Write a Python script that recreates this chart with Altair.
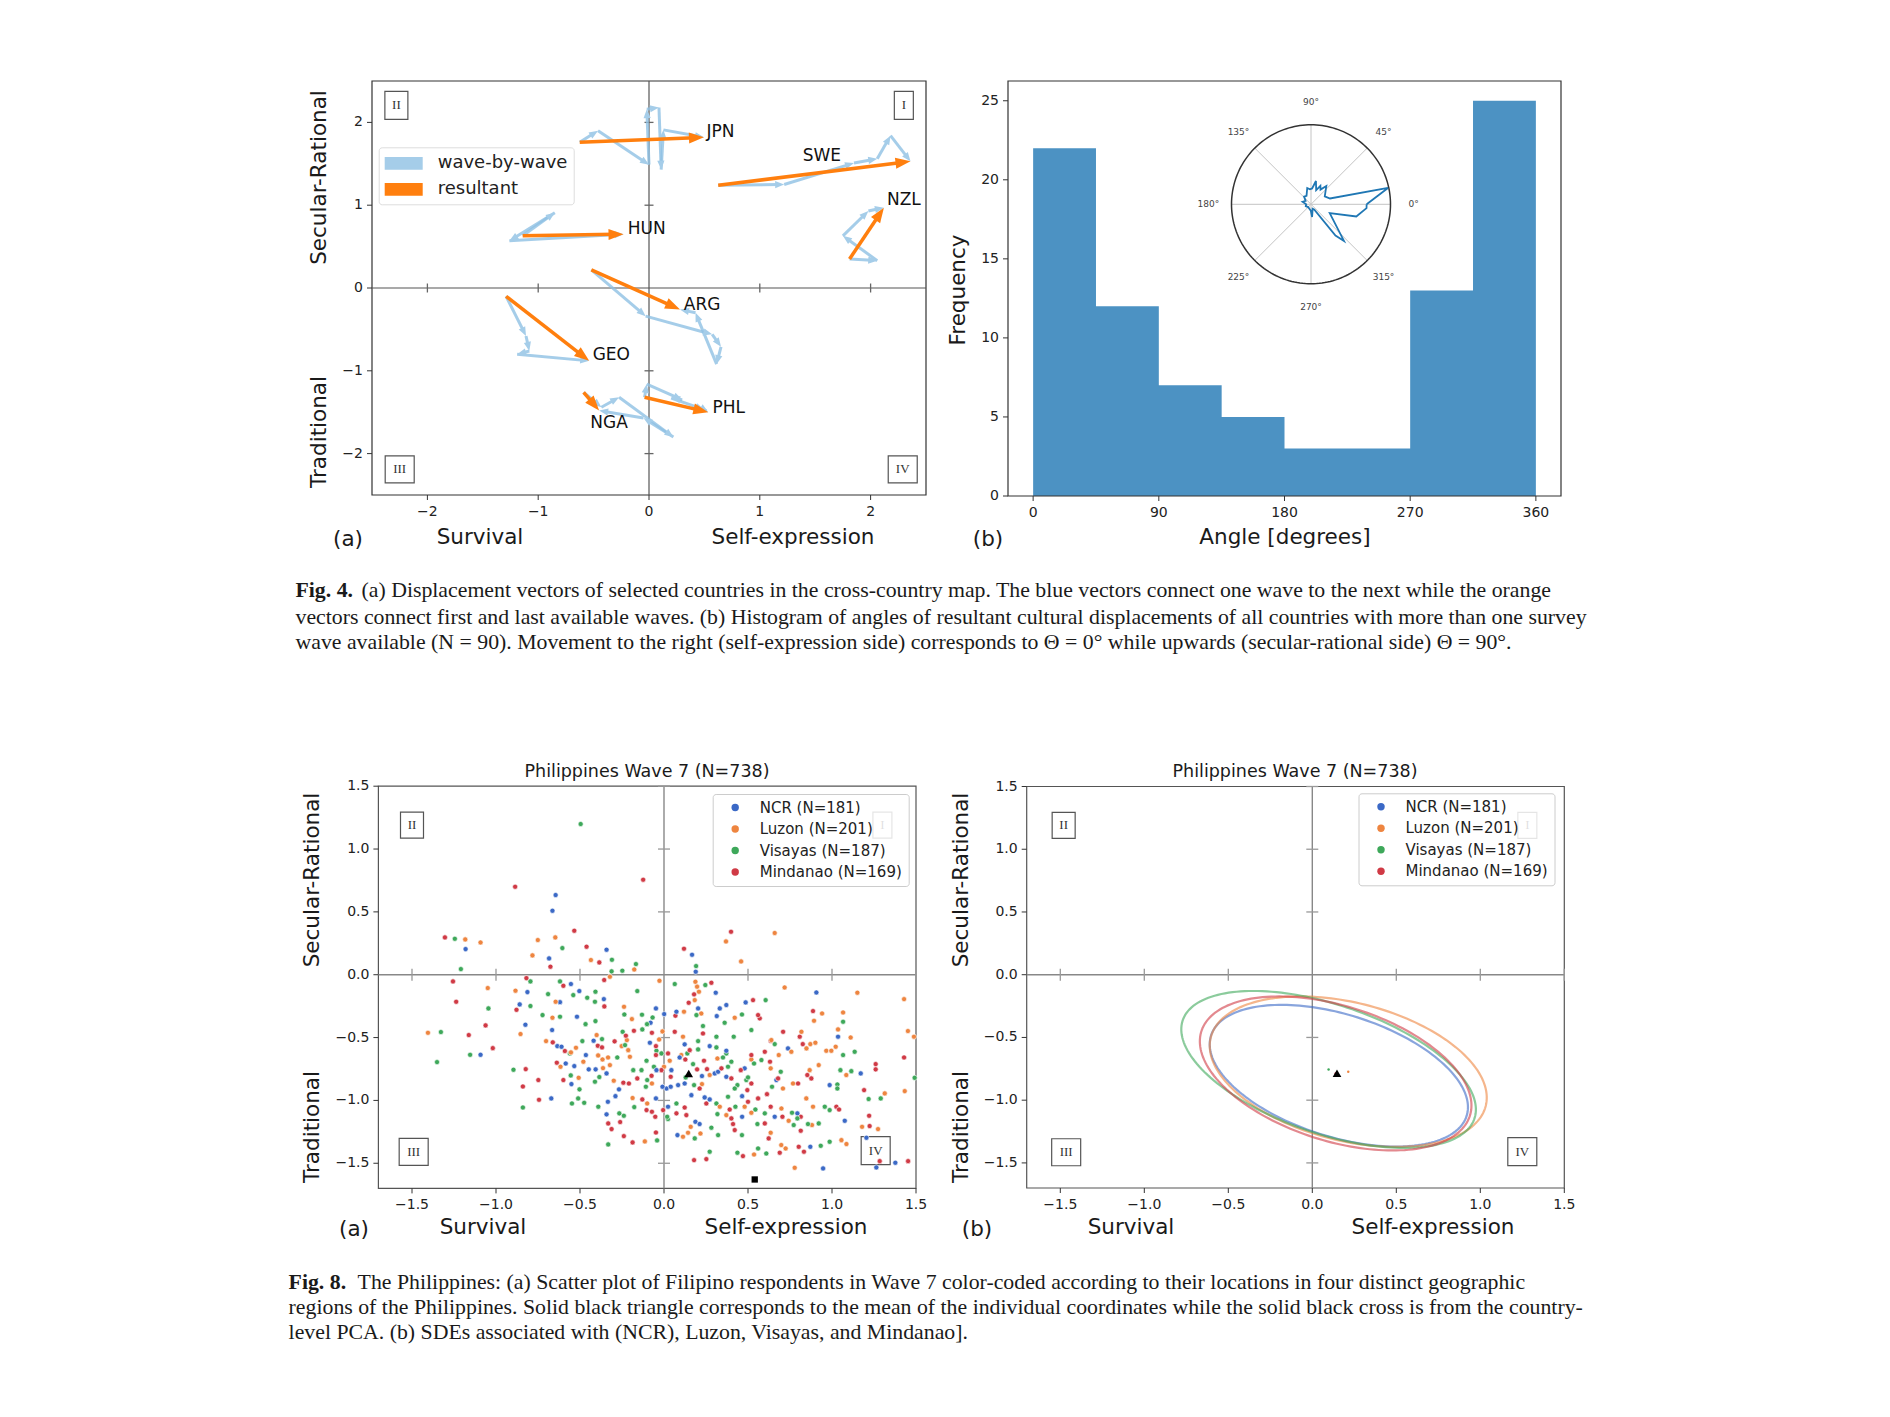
import math
import numpy as np
import pandas as pd
import altair as alt

W, H = 1874, 1400

# ============================ DATA ============================
# ---- Fig. 4(a): wave-by-wave positions (first point = first wave, last = last wave)
COUNTRIES = ["JPN", "SWE", "NZL", "HUN", "ARG", "GEO", "PHL", "NGA"]
JPN_X = [-0.625, -0.46, 0.00, -0.02, 0.09, 0.11, 0.13, 0.496]
JPN_Y = [1.76, 1.90, 1.49, 2.16, 2.18, 1.43, 1.91, 1.82]
SWE_X = [0.625, 1.22, 1.85, 2.06, 2.18, 2.36]
SWE_Y = [1.24, 1.25, 1.51, 1.56, 1.84, 1.53]
NZL_X = [1.81, 2.06, 1.75, 1.98, 2.12]
NZL_Y = [0.35, 0.33, 0.63, 0.93, 0.97]
HUN_X = [-1.14, -0.85, -1.26, -0.23]
HUN_Y = [0.63, 0.91, 0.57, 0.65]
ARG_X = [-0.52, -0.03, 0.57, 0.65, 0.61, 0.42, 0.28]
ARG_Y = [0.22, -0.34, -0.56, -0.71, -0.92, -0.30, -0.26]
GEO_X = [-1.29, -1.11, -1.08, -1.19, -0.54]
GEO_Y = [-0.10, -0.58, -0.76, -0.80, -0.88]
PHL_X = [-0.04, -0.02, 0.30, 0.20, 0.50, 0.535]
PHL_Y = [-1.32, -1.16, -1.35, -1.33, -1.47, -1.50]
NGA_X = [-0.59, -0.43, -0.27, 0.22, -0.05, -0.45]
NGA_Y = [-1.26, -1.44, -1.32, -1.80, -1.57, -1.48]
LABEL_X = [0.645, 1.56, 2.30, -0.02, 0.48, -0.34, 0.72, -0.36]
LABEL_Y = [1.89, 1.59, 1.06, 0.71, -0.21, -0.81, -1.45, -1.63]
KINDS = ["wave-by-wave", "resultant"]
QUAD = ["II", "I", "III", "IV"]
QA_X = [-2.28, 2.30, -2.25, 2.29]
QA_Y = [2.205, 2.205, -2.19, -2.19]
A_TICKS = [-2, -1, 0, 1, 2]

# ---- Fig. 4(b): histogram of resultant angles + polar inset
BIN_EDGES = [0, 45, 90, 135, 180, 225, 270, 315, 360]
BIN_COUNT = [22, 12, 7, 5, 3, 3, 13, 25]
ANGLE_TICKS = [0, 90, 180, 270, 360]
FREQ_TICKS = [0, 5, 10, 15, 20, 25]
ROSE_DEG = [0, 12, 17, 30, 50, 57, 63, 70, 78, 86, 94, 103, 118, 132, 148, 163,
            180, 200, 225, 250, 268, 275, 290, 302, 308, 312, 335, 345, 356]
ROSE_R = [0.70, 0.99, 0.25, 0.20, 0.30, 0.22, 0.26, 0.19, 0.30, 0.20, 0.19, 0.21, 0.12, 0.13, 0.08, 0.11,
          0.06, 0.07, 0.05, 0.06, 0.08, 0.16, 0.06, 0.08, 0.50, 0.62, 0.26, 0.59, 0.70]
POLAR_DEG = [0, 45, 90, 135, 180, 225, 270, 315]

# ---- Fig. 8: Philippines wave 7 respondents
REGIONS = ["NCR (N=181)", "Luzon (N=201)", "Visayas (N=187)", "Mindanao (N=169)"]
NCR_X = [-0.645, -0.664, -1.181, -0.342, -0.684, -0.554, 0.167, 0.189, -1.092, -0.813, -0.859, -0.504,
         -0.358, -0.619, -0.518, -0.825, -0.666, -0.048, 0.001, -0.080, -0.635, -0.610, -0.585, -0.534,
         -0.465, -0.419, -0.448, -0.407, -0.342, -0.551, -0.671, -0.334, -0.342, -0.268, -0.289, -0.045,
         -0.009, 0.015, -0.084, -0.048, 0.203, 0.074, 0.308, 0.371, 0.332, 0.314, 0.486, 0.907, 1.036,
         0.123, 0.738, 1.171, 0.986, 1.076, 1.264, 1.377, 1.205, 0.947, 0.480, 0.371, 0.322, 0.371, 0.669,
         0.794, 0.659, 0.871, 0.465, 0.080, 0.187, 0.212, 0.024, 0.242, 0.272, 0.465, 0.163, 0.123, 0.084,
         0.040, 0.226, 0.302, 0.093, 0.272, 0.044]
NCR_Y = [0.634, 0.509, 0.204, 0.199, 0.130, -0.074, 0.159, 0.024, -0.637, -0.138, -0.236, -0.130,
         -0.194, -0.218, -0.334, -0.398, -0.440, -0.268, -0.313, -0.382, -0.568, -0.573, -0.706, -0.727,
         -0.639, -0.525, -0.753, -0.753, -0.785, -0.870, -0.984, -1.011, -1.111, -0.912, -0.966, -0.759,
         -0.891, -0.905, -0.541, -0.984, -0.268, -0.294, -0.143, -0.241, -0.268, -0.329, -0.220, -0.141, -0.493,
         -0.554, -0.586, -0.785, -0.878, -1.162, -1.533, -1.496, -1.297, -1.541, -0.745, -0.812, -0.772, -0.605, -0.838,
         -1.103, -1.130, -1.369, -1.130, -1.276, -1.170, -1.188, -1.050, -0.976, -0.992, -0.966, -0.958, -0.865, -0.878,
         -0.891, -0.806, -0.785, -0.658, -0.568, -0.759]
LUZON_X = [-1.183, -1.092, -0.751, -0.647, -0.783, -0.435, -0.177, -0.322, -0.027, 0.369, 0.659, 0.459,
           -1.049, -1.405, -0.884, -0.645, -0.664, -0.854, -0.238, -0.191, -0.009, -0.702, -0.554, -0.524,
           -0.616, -0.480, -0.401, -0.392, -0.366, -0.333, -0.363, -0.322, -0.508, -0.114, -0.299, -0.187,
           -0.100, -0.072, -0.029, 0.000, -0.221, -0.213, -0.203, -0.252, 0.187, 0.197, 0.208, 0.183, 0.222,
           0.119, 0.421, 0.718, 1.151, 1.429, 0.941, 0.893, 1.066, 0.818, 1.111, 1.036, 1.452, 1.488, 0.113,
           0.639, 0.758, 0.848, 0.871, 0.901, 0.966, 0.996, 1.022, 1.433, 1.085, 1.314, 1.179, 1.274, 0.778,
           0.520, 0.318, 0.635, 0.683, 0.708, 0.768, 0.867, 0.921, 0.847, 0.887, 0.881, 0.742, 0.699, 0.635,
           0.536, 0.698, 0.724, 1.056, 1.086, 0.371, 0.332, 0.217, 0.143, 0.113, 0.159, 0.480, 0.520, 0.226,
           0.272, 0.103, 0.034]
LUZON_Y = [0.281, 0.257, 0.276, 0.297, 0.154, 0.117, 0.042, -0.016, -0.048, 0.265, 0.332, 0.106,
           -0.106, -0.462, -0.127, -0.215, -0.342, -0.472, -0.255, -0.353, -0.451, -0.528, -0.618, -0.581,
           -0.732, -0.692, -0.480, -0.642, -0.674, -0.658, -0.743, -0.719, -0.820, -1.326, -0.843, -0.981,
           -1.024, -0.865, -0.515, -0.732, -0.520, -0.600, -0.653, -0.568, -0.056, -0.095, -0.135, -0.202, -0.308,
           -0.294, -0.342, -0.101, -0.143, -0.194, -0.308, -0.366, -0.300, -0.454, -0.499, -0.435, -0.448, -0.493, -0.493,
           -0.520, -0.613, -0.586, -0.552, -0.541, -0.605, -0.605, -0.573, -0.926, -0.798, -0.944, -1.210, -1.228, -1.536,
           -0.674, -0.666, -0.745, -0.639, -0.905, -0.865, -0.759, -0.719, -0.984, -1.050, -1.196, -1.162, -1.064, -1.257,
           -1.430, -1.355, -1.382, -1.316, -1.347, -1.117, -1.050, -1.263, -1.257, -1.289, -1.210, -1.050, -1.098, -0.870,
           -0.798, -0.639, -0.684]
VISAYAS_X = [-0.496, -1.245, -0.605, -0.310, -0.167, -1.209, -0.312, -0.248, -0.795, -0.619, 0.191,
             -1.045, -1.328, -1.154, -1.351, -0.795, -0.690, -0.540, -0.457, -0.408, -0.411, -0.723, -0.619,
             -0.467, -0.408, -0.159, -0.236, -0.131, -0.068, -0.101, -0.129, -0.560, -0.486, -0.369, -0.385,
             -0.896, -0.555, -0.503, -0.411, -0.840, -0.548, -0.511, -0.475, -0.391, -0.266, -0.239, -0.041,
             -0.332, -0.177, -0.183, -0.134, -0.100, -0.108, -0.060, -0.104, -0.045, -0.015, 0.019, -0.246,
             -0.232, -0.278, 0.064, 0.246, 0.193, 0.361, 0.464, 0.605, 1.066, 0.520, 0.415, 0.312, 0.232, 0.203,
             0.659, 1.066, 1.135, 1.492, 1.115, 1.050, 1.032, 1.032, 1.290, 1.218, 0.580, 0.490, 0.437, 0.421,
             0.381, 0.351, 0.401, 0.371, 0.536, 0.695, 0.643, 0.957, 0.986, 0.921, 0.857, 0.794, 0.762, 0.772,
             0.600, 0.556, 0.560, 0.609, 0.933, 0.986, 0.437, 0.272, 0.464, 0.322, 0.183, 0.024, 0.282, 0.074,
             0.318, 0.312, 0.425, 0.381, 0.544, 0.129, 0.179, 0.173, 0.139, 0.312, 0.203, 0.500]
VISAYAS_Y = [1.199, 0.286, 0.212, 0.119, 0.085, 0.045, 0.027, 0.032, -0.053, -0.053, 0.069,
             -0.268, -0.456, -0.637, -0.695, -0.249, -0.154, -0.162, -0.183, -0.135, -0.215, -0.321, -0.334,
             -0.393, -0.369, -0.130, -0.316, -0.318, -0.340, -0.393, -0.435, -0.626, -0.528, -0.512, -0.814,
             -0.756, -0.801, -0.912, -0.851, -1.056, -1.024, -0.984, -1.019, -1.050, -1.103, -1.122, -1.318,
             -1.350, -1.053, -0.759, -0.759, -0.838, -0.891, -0.732, -0.684, -0.605, -0.626, -1.130, -0.454,
             -0.560, -0.658, -0.074, -0.082, -0.321, -0.382, -0.316, -0.202, -0.374, -0.440, -0.493, -0.493, -0.408, -0.528,
             -0.552, -0.639, -0.613, -0.820, -0.767, -0.759, -0.873, -0.905, -0.984, -0.989, -0.679, -0.838, -0.878, -0.905,
             -0.732, -0.658, -0.692, -0.626, -0.706, -0.772, -0.891, -1.050, -1.077, -1.183, -1.188, -1.143, -1.098, -1.196,
             -1.103, -1.188, -1.382, -1.422, -1.361, -1.329, -1.416, -1.408, -1.276, -1.276, -1.302, -1.148, -1.217, -1.024,
             -1.109, -1.024, -1.050, -0.971, -1.072, -0.817, -0.878, -0.711, -0.626, -0.578, -0.594, -0.817]
MINDANAO_X = [-0.886, -0.124, -0.534, -1.304, -0.461, -0.676, -0.385, -1.256, -0.819, -0.356, 0.119, 0.399,
              -1.237, -1.062, -1.162, -1.019, -0.878, -0.599, -0.355, -0.179, -0.072, -0.662, -0.590, -0.638,
              -0.394, -0.369, -0.823, -0.748, -0.840, -0.599, -0.744, -0.332, -0.312, -0.261, -0.239, -0.187,
              -0.048, -0.242, -0.209, -0.129, -0.104, -0.072, -0.052, -0.005, -0.159, -0.074, -0.015, -0.048,
              -0.048, -0.227, -0.294, 0.282, 0.179, 0.147, 0.068, 0.530, 0.570, 0.560, 0.887, 0.709, 0.808,
              0.232, 0.064, 0.826, 1.429, 1.260, 1.260, 1.191, 1.221, 1.224, 1.284, 1.453, 0.635, 0.600, 0.631,
              0.457, 0.520, 0.401, 0.342, 0.256, 0.238, 0.520, 0.679, 0.613, 0.798, 0.853, 0.877, 1.026, 1.042,
              0.814, 0.814, 0.705, 0.635, 0.600, 0.623, 0.689, 0.802, 0.833, 0.470, 0.179, 0.252, 0.421, 0.411,
              0.401, 0.074, 0.133, 0.123, 0.252, 0.391, 0.496, 0.500, 0.212, 0.040, 0.197, 0.127, 0.153, 0.024,
              0.560]
MINDANAO_Y = [0.700, 0.756, 0.350, 0.297, 0.223, 0.064, 0.098, -0.053, -0.027, -0.042, 0.207, 0.342,
              -0.215, -0.403, -0.480, -0.584, -0.279, -0.088, -0.252, -0.446, -0.462, -0.538, -0.607, -0.700,
              -0.565, -0.578, -0.751, -0.838, -0.889, -0.838, -0.995, -1.183, -1.228, -1.172, -1.284, -1.334,
              -1.255, -0.859, -0.865, -0.992, -1.077, -1.090, -1.130, -1.077, -0.825, -0.804, -0.759, -0.639,
              -0.568, -0.485, -0.530, -0.064, -0.156, -0.223, -0.326, -0.202, -0.347, -0.321, -0.289, -0.454, -0.493,
              -0.467, -0.454, -0.552, -0.658, -0.711, -0.753, -0.918, -1.122, -1.204, -1.483, -1.483, -0.525, -0.613, -0.692,
              -0.759, -0.865, -0.825, -0.745, -0.751, -0.684, -0.639, -0.825, -0.950, -0.865, -0.798, -0.825, -1.050, -1.072,
              -1.241, -1.130, -1.130, -1.050, -1.183, -1.302, -1.416, -1.369, -1.408, -1.443, -1.475, -1.467, -1.236, -1.188,
              -1.143, -1.103, -1.117, -1.056, -1.024, -1.072, -0.918, -1.011, -0.905, -0.812, -0.753, -0.674, -0.600, -0.626,
              -0.984]
MEAN_X, MEAN_Y = [0.147], [-0.785]
PCA_X, PCA_Y = [0.540], [-1.629]
ELL_CX = [0.158, 0.214, 0.097, 0.139]
ELL_CY = [-0.805, -0.773, -0.755, -0.787]
ELL_A = [0.831, 0.868, 0.958, 0.874]
ELL_B = [0.468, 0.535, 0.492, 0.516]
ELL_DEG = [-27.4, -23.4, -28.0, -28.1]
MAP_TICKS = [-1.5, -1.0, -0.5, 0.0, 0.5, 1.0, 1.5]
ZERO_TICKS = [-1.5, -1.0, -0.5, 0.5, 1.0, 1.5]
QC_X = [-1.50, 1.30, -1.49, 1.26]
QC_Y = [1.19, 1.19, -1.41, -1.40]
QD_X = [-1.48, 1.28, -1.465, 1.25]
QD_Y = [1.19, 1.19, -1.415, -1.41]

CAPTION4 = [
    "(a) Displacement vectors of selected countries in the cross-country map. The blue vectors connect one wave to the next while the orange",
    "vectors connect first and last available waves. (b) Histogram of angles of resultant cultural displacements of all countries with more than one survey",
    "wave available (N = 90). Movement to the right (self-expression side) corresponds to \u0398 = 0\u00b0 while upwards (secular-rational side) \u0398 = 90\u00b0.",
]
CAPTION8 = [
    "The Philippines: (a) Scatter plot of Filipino respondents in Wave 7 color-coded according to their locations in four distinct geographic",
    "regions of the Philippines. Solid black triangle corresponds to the mean of the individual coordinates while the solid black cross is from the country-",
    "level PCA. (b) SDEs associated with (NCR), Luzon, Visayas, and Mindanao].",
]

# ============================ LAYOUT HELPERS ============================
def cpx(p):
    return p - 8


def xsc(d0, d1, p0, p1):
    p0, p1 = cpx(p0), cpx(p1)
    k = (p1 - p0) / (d1 - d0)
    lo = d0 - p0 / k
    return alt.Scale(domain=[lo, lo + W / k], nice=False, zero=False), k


def ysc(d0, d1, p0, p1):
    p0, p1 = cpx(p0), cpx(p1)
    k = (p0 - p1) / (d1 - d0)
    lo = d0 - (H - p0) / k
    return alt.Scale(domain=[lo, lo + H / k], nice=False, zero=False), k


def fmt(v, spec):
    return format(v, spec).replace("-", "\u2212")


def box_path(w, h):
    return f"M{-w/2},{-h/2}H{w/2}V{h/2}H{-w/2}Z"


def enc(xs, ys, xf="x", yf="y"):
    return dict(x=alt.X(f"{xf}:Q", scale=xs, axis=None), y=alt.Y(f"{yf}:Q", scale=ys, axis=None))


def frame_and_axes(xs, ys, kx, ky, xd, yd, xt, yt, spec, color):
    df = pd.DataFrame({"x": [xd[0]], "x2": [xd[1]], "y": [yd[0]], "y2": [yd[1]]})
    box = alt.Chart(df).mark_rect(fill="white", fillOpacity=0, stroke=color, strokeWidth=1.2).encode(
        x2="x2:Q", y2="y2:Q", **enc(xs, ys))
    tl = 5.0
    bt = pd.DataFrame({"x": xt, "y": [yd[0]] * len(xt), "y2": [yd[0] - tl / ky] * len(xt),
                       "t": [fmt(v, spec) for v in xt]})
    lt = pd.DataFrame({"y": yt, "x": [xd[0]] * len(yt), "x2": [xd[0] - tl / kx] * len(yt),
                       "t": [fmt(v, spec) for v in yt]})
    bticks = alt.Chart(bt).mark_rule(color="#333", strokeWidth=1).encode(y2="y2:Q", **enc(xs, ys))
    lticks = alt.Chart(lt).mark_rule(color="#333", strokeWidth=1).encode(x2="x2:Q", **enc(xs, ys))
    blab = alt.Chart(bt).mark_text(font="DejaVu Sans", fontSize=14, color="#222", baseline="top", dy=10).encode(
        text="t:N", **enc(xs, ys))
    llab = alt.Chart(lt).mark_text(font="DejaVu Sans", fontSize=14, color="#222", align="right",
                                   baseline="middle", dx=-9).encode(text="t:N", **enc(xs, ys))
    return [box, bticks, lticks, blab, llab]


def crosshair(xs, ys, xd, yd, color, width, tick_vals, tick_len, tick_color):
    v = alt.Chart(pd.DataFrame({"x": [0.0], "y": [yd[0]], "y2": [yd[1]]})).mark_rule(
        color=color, strokeWidth=width).encode(y2="y2:Q", **enc(xs, ys))
    h = alt.Chart(pd.DataFrame({"y": [0.0], "x": [xd[0]], "x2": [xd[1]]})).mark_rule(
        color=color, strokeWidth=width).encode(x2="x2:Q", **enc(xs, ys))
    n = len(tick_vals)
    tv = alt.Chart(pd.DataFrame({"x": [0.0] * n, "y": tick_vals})).mark_tick(
        orient="horizontal", size=tick_len, thickness=1.3, color=tick_color, opacity=1).encode(**enc(xs, ys))
    th = alt.Chart(pd.DataFrame({"x": tick_vals, "y": [0.0] * n})).mark_tick(
        orient="vertical", size=tick_len, thickness=1.3, color=tick_color, opacity=1).encode(**enc(xs, ys))
    return [v, h, tv, th]


def quadrants(xs, ys, qx, qy, dims):
    df = pd.DataFrame({"x": qx, "y": qy, "t": QUAD, "path": [box_path(w, h) for w, h in dims]})
    boxes = alt.Chart(df).mark_point(filled=False, size=4, color="#555", strokeWidth=1.2, opacity=1).encode(
        shape=alt.Shape("path:N", scale=None, legend=None), **enc(xs, ys))
    txt = alt.Chart(df).mark_text(font="Liberation Serif", fontSize=13, color="#333").encode(
        text="t:N", **enc(xs, ys))
    return [boxes, txt]


def region_legend(px, py):
    return alt.Legend(orient="none", legendX=cpx(px), legendY=cpx(py), title=None, symbolType="circle",
                      symbolSize=55, symbolStrokeWidth=0, labelFont="DejaVu Sans", labelFontSize=15,
                      labelColor="#222", padding=6, symbolOffset=9, labelOffset=17, rowPadding=5.5,
                      strokeColor="#cccccc", fillColor="rgba(255,255,255,0.85)", cornerRadius=3)


PAL = ["#3b69c6", "#ee8540", "#3ea85a", "#d03a45"]

# ============================ PANEL A ============================
XA, KXA = xsc(-2.5, 2.5, 372, 926)
YA, KYA = ysc(-2.5, 2.5, 495, 81)
PATHS = {"JPN": (JPN_X, JPN_Y), "SWE": (SWE_X, SWE_Y), "NZL": (NZL_X, NZL_Y), "HUN": (HUN_X, HUN_Y),
         "ARG": (ARG_X, ARG_Y), "GEO": (GEO_X, GEO_Y), "PHL": (PHL_X, PHL_Y), "NGA": (NGA_X, NGA_Y)}
HEAD = {"wave-by-wave": (9.0, 3.6), "resultant": (15.0, 5.5)}
seg_rows, head_rows = [], []
for c in COUNTRIES:
    xs_, ys_ = PATHS[c]
    pairs = [(xs_[i], ys_[i], xs_[i + 1], ys_[i + 1], KINDS[0]) for i in range(len(xs_) - 1)]
    pairs.append((xs_[0], ys_[0], xs_[-1], ys_[-1], KINDS[1]))
    for x0, y0, x1, y1, kind in pairs:
        hl, hw = HEAD[kind]
        dxp, dyp = (x1 - x0) * KXA, (y1 - y0) * KYA
        d = math.hypot(dxp, dyp)
        cut = min(0.6 * hl, 0.5 * d)
        seg_rows.append({"kind": kind, "x": x0, "y": y0,
                         "x2": x1 - dxp / d * cut / KXA, "y2": y1 - dyp / d * cut / KYA})
        head_rows.append({"kind": kind, "x": x1, "y": y1,
                          "ang": math.degrees(math.atan2(dxp, dyp)) % 360})
seg = pd.DataFrame(seg_rows)
head = pd.DataFrame(head_rows)

legA = alt.Legend(orient="none", legendX=cpx(378.7), legendY=cpx(147.3), title=None,
                  symbolType="M-1.9,-0.64H1.9V0.64H-1.9Z", symbolSize=400, symbolStrokeWidth=0,
                  labelFont="DejaVu Sans", labelFontSize=18, labelColor="#222", padding=6,
                  symbolOffset=9, labelOffset=24, rowPadding=7, strokeColor="#dddddd",
                  fillColor="rgba(255,255,255,0.8)", cornerRadius=3)
colA = alt.Color("kind:N", scale=alt.Scale(domain=KINDS, range=["#a5cde9", "#ff7f0e"]), legend=legA)


def rules(kind, color, width, op):
    return alt.Chart(seg[seg.kind == kind]).mark_rule(color=color, strokeWidth=width, opacity=op).encode(
        x2="x2:Q", y2="y2:Q", **enc(XA, YA))


def heads(kind):
    hl, hw = HEAD[kind]
    return alt.Chart(head[head.kind == kind]).mark_point(
        shape=f"M0,0L{hw},{hl}L{-hw},{hl}Z", size=4, filled=True, opacity=1).encode(
        color=colA, angle=alt.Angle("ang:Q", scale=None), **enc(XA, YA))


labA = alt.Chart(pd.DataFrame({"x": LABEL_X, "y": LABEL_Y, "t": COUNTRIES})).mark_text(
    font="DejaVu Sans", fontSize=17, color="#111").encode(text="t:N", **enc(XA, YA))

panelA = alt.layer(
    *frame_and_axes(XA, YA, KXA, KYA, (-2.5, 2.5), (-2.5, 2.5), A_TICKS, A_TICKS, "d", "#333"),
    *crosshair(XA, YA, (-2.5, 2.5), (-2.5, 2.5), "#555", 1.2, [-2, -1, 1, 2], 9, "#666"),
    rules(KINDS[0], "#8fc0e3", 3, 0.8), heads(KINDS[0]),
    rules(KINDS[1], "#ff7f0e", 3.5, 1), heads(KINDS[1]),
    labA,
    *quadrants(XA, YA, QA_X, QA_Y, [(23, 28), (19, 28), (29, 27), (29, 27)]),
)

# ============================ PANEL B ============================
XB, KXB = xsc(-18, 378, 1008, 1561)
YB, KYB = ysc(0, 26.25, 496, 81)
# histogram drawn as one stepped area (no seams between adjacent bins)
hist = pd.DataFrame({"x": BIN_EDGES, "y": BIN_COUNT + BIN_COUNT[-1:], "y2": [0] * len(BIN_EDGES)})
bars = alt.Chart(hist).mark_area(color="#4c92c3", interpolate="step-after", opacity=1).encode(
    y2="y2:Q", **enc(XB, YB))
panelB = alt.layer(
    bars,
    *frame_and_axes(XB, YB, KXB, KYB, (-18, 378), (0, 26.25), ANGLE_TICKS, FREQ_TICKS, "d", "#333"),
)

# polar inset
XI, _ = xsc(-1, 1, 1311 - 79.5, 1311 + 79.5)
YI, _ = ysc(-1, 1, 204.3 + 79.5, 204.3 - 79.5)
tt = np.radians(np.arange(0, 362, 2))
circ = pd.DataFrame({"x": np.cos(tt), "y": np.sin(tt), "i": np.arange(len(tt))})
pr = np.radians(POLAR_DEG)
spokes = pd.DataFrame({"x": [0.0] * 8, "y": [0.0] * 8, "x2": np.cos(pr), "y2": np.sin(pr)})
plabels = pd.DataFrame({"x": 1.29 * np.cos(pr), "y": 1.29 * np.sin(pr), "t": [f"{d}\u00b0" for d in POLAR_DEG]})
rr = np.radians(ROSE_DEG + ROSE_DEG[:1])
rose = pd.DataFrame({"x": np.array(ROSE_R + ROSE_R[:1]) * np.cos(rr),
                     "y": np.array(ROSE_R + ROSE_R[:1]) * np.sin(rr), "i": np.arange(len(rr))})
inset = alt.layer(
    alt.Chart(spokes).mark_rule(color="#c4c4c4", strokeWidth=1).encode(x2="x2:Q", y2="y2:Q", **enc(XI, YI)),
    alt.Chart(circ).mark_line(color="#333", strokeWidth=1.5).encode(order="i:Q", **enc(XI, YI)),
    alt.Chart(plabels).mark_text(font="DejaVu Sans", fontSize=9, color="#444").encode(text="t:N", **enc(XI, YI)),
    alt.Chart(rose).mark_line(color="#1f77b4", strokeWidth=1.8).encode(order="i:Q", **enc(XI, YI)),
)

# ============================ PANEL C ============================
XC, KXC = xsc(-1.7, 1.5, 378.4, 916)
YC, KYC = ysc(-1.7, 1.5, 1188.4, 786.2)
pts = pd.concat([
    pd.DataFrame({"x": NCR_X, "y": NCR_Y, "r": REGIONS[0]}),
    pd.DataFrame({"x": LUZON_X, "y": LUZON_Y, "r": REGIONS[1]}),
    pd.DataFrame({"x": VISAYAS_X, "y": VISAYAS_Y, "r": REGIONS[2]}),
    pd.DataFrame({"x": MINDANAO_X, "y": MINDANAO_Y, "r": REGIONS[3]}),
], ignore_index=True)
# interleave regions so no colour sits entirely on top
pts = pts.iloc[np.argsort(pts.index.values % 37, kind="stable")]
scatter = alt.Chart(pts).mark_circle(size=26, opacity=1, stroke="white", strokeWidth=0.6).encode(
    color=alt.Color("r:N", scale=alt.Scale(domain=REGIONS, range=PAL), legend=region_legend(712.7, 794)),
    **enc(XC, YC))
meanC = alt.Chart(pd.DataFrame({"x": MEAN_X, "y": MEAN_Y})).mark_point(
    shape="triangle-up", filled=True, color="black", size=75, opacity=1).encode(**enc(XC, YC))
pcaC = alt.Chart(pd.DataFrame({"x": PCA_X, "y": PCA_Y})).mark_point(
    shape="square", filled=True, color="black", size=40, opacity=1).encode(**enc(XC, YC))
panelC = alt.layer(
    *frame_and_axes(XC, YC, KXC, KYC, (-1.7, 1.5), (-1.7, 1.5), MAP_TICKS, MAP_TICKS, ".1f", "#555"),
    *crosshair(XC, YC, (-1.7, 1.5), (-1.7, 1.5), "#888", 1.4, ZERO_TICKS, 12, "#999"),
    *quadrants(XC, YC, QC_X, QC_Y, [(23, 26), (19, 26), (29, 27), (29, 28)]),
    scatter, meanC, pcaC,
)

# ============================ PANEL D ============================
XD, KXD = xsc(-1.7, 1.5, 1026.7, 1564.3)
YD, KYD = ysc(-1.7, 1.5, 1188, 786.5)
te = np.linspace(0, 2 * np.pi, 181)
ell_parts = []
for k in range(4):
    th = math.radians(ELL_DEG[k])
    ex = ELL_CX[k] + ELL_A[k] * np.cos(te) * math.cos(th) - ELL_B[k] * np.sin(te) * math.sin(th)
    ey = ELL_CY[k] + ELL_A[k] * np.cos(te) * math.sin(th) + ELL_B[k] * np.sin(te) * math.cos(th)
    ell_parts.append(pd.DataFrame({"x": ex, "y": ey, "r": REGIONS[k], "i": np.arange(len(te))}))
ell = pd.concat(ell_parts, ignore_index=True)
ellipses = alt.Chart(ell).mark_line(strokeWidth=2.2, strokeOpacity=0.6).encode(
    stroke=alt.Stroke("r:N", scale=alt.Scale(domain=REGIONS, range=PAL), legend=None),
    detail="r:N", order="i:Q", **enc(XD, YD))
centers = alt.Chart(pd.DataFrame({"x": ELL_CX, "y": ELL_CY, "r": REGIONS})).mark_circle(size=6, opacity=1).encode(
    fill=alt.Fill("r:N", sort=REGIONS, scale=alt.Scale(range=PAL), legend=region_legend(1358.5, 793.3)),
    **enc(XD, YD))
meanD = alt.Chart(pd.DataFrame({"x": MEAN_X, "y": MEAN_Y})).mark_point(
    shape="triangle-up", filled=True, color="black", size=75, opacity=1).encode(**enc(XD, YD))
panelD = alt.layer(
    *frame_and_axes(XD, YD, KXD, KYD, (-1.7, 1.5), (-1.7, 1.5), MAP_TICKS, MAP_TICKS, ".1f", "#555"),
    *crosshair(XD, YD, (-1.7, 1.5), (-1.7, 1.5), "#888", 1.4, ZERO_TICKS, 12, "#999"),
    *quadrants(XD, YD, QD_X, QD_Y, [(23, 26), (19, 26), (29, 27), (29, 28)]),
    ellipses, centers, meanD,
)

# ============================ TEXT ============================
notes = pd.DataFrame([
    ("Secular-Rational", 320, 177.5, 270, 21.5), ("Traditional", 320, 432, 270, 21.5),
    ("Survival", 480, 538, 0, 21.5), ("Self-expression", 793, 538, 0, 21.5), ("(a)", 348, 540, 0, 21.5),
    ("Frequency", 959, 290, 270, 21.5), ("Angle [degrees]", 1285, 538, 0, 21.5), ("(b)", 988, 540, 0, 21.5),
    ("Philippines Wave 7 (N=738)", 647, 772, 0, 17.5),
    ("Secular-Rational", 313, 880, 270, 21.5), ("Traditional", 313, 1127, 270, 21.5),
    ("Survival", 483, 1228, 0, 21.5), ("Self-expression", 786, 1228, 0, 21.5), ("(a)", 354, 1230, 0, 21.5),
    ("Philippines Wave 7 (N=738)", 1295, 772, 0, 17.5),
    ("Secular-Rational", 962, 880, 270, 21.5), ("Traditional", 962, 1127, 270, 21.5),
    ("Survival", 1131, 1228, 0, 21.5), ("Self-expression", 1433, 1228, 0, 21.5), ("(b)", 977, 1230, 0, 21.5),
], columns=["t", "px", "py", "rot", "fs"])
notes["px"] = notes["px"].map(cpx)
notes["py"] = notes["py"].map(cpx)
PIX = dict(x=alt.X("px:Q", scale=None, axis=None), y=alt.Y("py:Q", scale=None, axis=None))
note_layer = alt.Chart(notes).mark_text(font="DejaVu Sans", color="#1a1a1a", baseline="middle").encode(
    text="t:N", angle=alt.Angle("rot:Q", scale=None), size=alt.Size("fs:Q", scale=None, legend=None), **PIX)

CAP_FS = 21.8
cap_bold = pd.DataFrame({"t": ["Fig. 4.", "Fig. 8."], "px": [cpx(295.5), cpx(288.6)], "py": [cpx(590), cpx(1281.7)]})
cap_reg = pd.DataFrame({
    "t": CAPTION4 + CAPTION8,
    "px": [cpx(295.5 + 66), cpx(295.5), cpx(295.5), cpx(288.6 + 69), cpx(288.6), cpx(288.6)],
    "py": [cpx(590), cpx(616.5), cpx(641.5), cpx(1281.7), cpx(1306.7), cpx(1331.7)],
})
capB = alt.Chart(cap_bold).mark_text(font="Liberation Serif", fontSize=CAP_FS, fontWeight="bold", align="left",
                                     baseline="middle", color="#1a1a1a").encode(text="t:N", **PIX)
capR = alt.Chart(cap_reg).mark_text(font="Liberation Serif", fontSize=CAP_FS, align="left",
                                    baseline="middle", color="#1a1a1a").encode(text="t:N", **PIX)

chart = alt.layer(panelA, panelB, inset, panelC, panelD, note_layer, capB, capR).resolve_scale(
    x="independent", y="independent", color="independent", stroke="independent", fill="independent"
).properties(width=W, height=H, padding=0).configure_view(stroke=None)

chart.save("out.html", embed_options={"renderer": "svg", "actions": False})
